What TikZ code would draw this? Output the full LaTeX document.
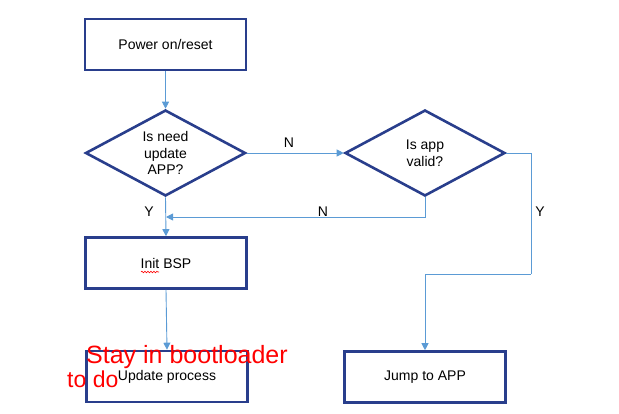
\documentclass[tikz,border=0pt]{standalone}
\usepackage{fontspec}
\setmainfont{Liberation Sans}
\usetikzlibrary{shapes.geometric,arrows.meta,decorations.pathmorphing}
\definecolor{boxblue}{RGB}{41,62,140}
\definecolor{linkblue}{RGB}{91,155,213}
\begin{document}
\begin{tikzpicture}[x=1pt,y=-1pt,font=\fontsize{14}{16.5}\selectfont,
  stepbox/.style={draw=boxblue,line width=2.6pt,minimum width=161pt,minimum height=51pt,inner sep=0pt},
  test/.style={diamond,draw=boxblue,line width=2.6pt,minimum width=160pt,minimum height=86pt,aspect=1.85,inner sep=0pt,align=center},
  link/.style={draw=linkblue,line width=0.9pt,-{Triangle[length=7pt,width=7pt]}},
  plain/.style={draw=linkblue,line width=0.9pt}]
\useasboundingbox (0,0) rectangle (619,413);
\node[stepbox] (power) at (165.5,44.5) {Power on/reset};
\node[test] (needupd) at (165.5,153) {Is need\\update\\APP?};
\node[test] (appok) at (425,153) {Is app\\valid?};
\node[stepbox] (bsp) at (166,263) {Init BSP};
\node[stepbox] (update) at (167,376.5) {Update process};
\node[stepbox] (jump) at (425,377) {Jump to APP};
\coordinate (back) at (166,217);
\coordinate (turn) at (531,274);
% connectors
\draw[link] (power) -- (needupd);
\draw[link] (needupd.east) -- (appok.west);
\draw[link] (needupd.south) -- (bsp.north);
\draw[link] (appok.south) |- (back);
\draw[plain] (appok.east) -| (turn);
\draw[link] (turn) -| (jump.north);
\draw[link] (bsp.south) -- (update.north);
\node at (289,143) {N};
\node at (323,212) {N};
\node at (149,212) {Y};
\node at (540,212) {Y};
% red notes
\draw[red,line width=0.6pt,decorate,decoration={snake,amplitude=0.8pt,segment length=3pt}] (141,272) -- (159,272);
\node[red,anchor=base west,inner sep=0pt,font=\fontsize{25}{25}\selectfont] (stay) at (86,363) {Stay in bootloader};
\node[red,anchor=base west,inner sep=0pt,font=\fontsize{23}{23}\selectfont] (todo) at (67,387) {to do};
\end{tikzpicture}
\end{document}
